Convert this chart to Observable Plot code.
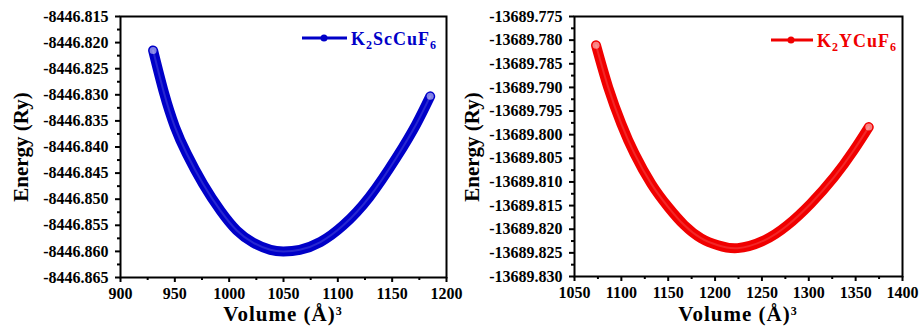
<!DOCTYPE html>
<html>
<head>
<meta charset="utf-8">
<script src="https://cdn.jsdelivr.net/npm/d3@7"></script>
<script src="https://cdn.jsdelivr.net/npm/@observablehq/plot@0.6"></script>
<style>
  html, body { margin: 0; padding: 0; background: white; }
  #wrap { position: relative; width: 919px; height: 326px; overflow: hidden; background: white; }
  #p1, #p2 { position: absolute; top: 0; }
  #p1 { left: 0; }
  #p2 { left: 460px; width: 459px; height: 326px; overflow: hidden; }
</style>
</head>
<body>
<div id="wrap"><div id="p1"></div><div id="p2"></div></div>
<script>
// ---- Panel 1: K2ScCuF6 ----
const vol1 = [930, 940, 950, 961, 976, 992, 1007, 1022, 1038, 1050, 1065, 1084, 1105, 1129, 1154, 1172, 1185];
const energy1 = [-8446.8215, -8446.8296, -8446.8361, -8446.8413, -8446.8471, -8446.8522, -8446.8560, -8446.8583, -8446.8597, -8446.8600, -8446.8597, -8446.8582, -8446.8550, -8446.8496, -8446.8420, -8446.8357, -8446.8303];
const xTicks1 = [900, 950, 1000, 1050, 1100, 1150, 1200];
const xMinor1 = [925, 975, 1025, 1075, 1125, 1175];
const yTicks1 = [-8446.865, -8446.860, -8446.855, -8446.850, -8446.845, -8446.840, -8446.835, -8446.830, -8446.825, -8446.820, -8446.815];
const yMinor1 = [-8446.8625, -8446.8575, -8446.8525, -8446.8475, -8446.8425, -8446.8375, -8446.8325, -8446.8275, -8446.8225, -8446.8175];
const name1 = ["K", "2", "ScCuF", "6"];

// ---- Panel 2: K2YCuF6 ----
const vol2 = [1073, 1086, 1100, 1114, 1132, 1150, 1167, 1185, 1203, 1224, 1252, 1277, 1302, 1327, 1348, 1364];
const energy2 = [-13689.7811, -13689.7900, -13689.7977, -13689.8040, -13689.8104, -13689.8153, -13689.8191, -13689.8219, -13689.8234, -13689.8240, -13689.8224, -13689.8192, -13689.8146, -13689.8090, -13689.8033, -13689.7984];
const xTicks2 = [1050, 1100, 1150, 1200, 1250, 1300, 1350, 1400];
const xMinor2 = [1075, 1125, 1175, 1225, 1275, 1325, 1375];
const yTicks2 = [-13689.830, -13689.825, -13689.820, -13689.815, -13689.810, -13689.805, -13689.800, -13689.795, -13689.790, -13689.785, -13689.780, -13689.775];
const yMinor2 = [-13689.8275, -13689.8225, -13689.8175, -13689.8125, -13689.8075, -13689.8025, -13689.7975, -13689.7925, -13689.7875, -13689.7825, -13689.7775];
const name2 = ["K", "2", "YCuF", "6"];

const xLabel = "Volume (Å)";
const yLabel = "Energy (Ry)";

function panel(o) {
  const data = o.vol.map((v, i) => ({v, e: o.energy[i]}));
  const svg = Plot.plot({
    width: o.width, height: 326,
    marginLeft: o.ml, marginRight: o.mr, marginTop: 16, marginBottom: o.mb,
    style: {fontFamily: "'Liberation Serif', serif", fontWeight: "bold", fontSize: "16px", color: "black", background: "transparent", overflow: "visible"},
    x: {domain: [o.xTicks[0], o.xTicks[o.xTicks.length - 1]]},
    y: {domain: [o.yTicks[0], o.yTicks[o.yTicks.length - 1]]},
    marks: [
      Plot.line(data, {x: "v", y: "e", stroke: o.color, strokeWidth: 10, curve: "natural", strokeLinecap: "round"}),
      Plot.line(data, {x: "v", y: "e", stroke: "white", strokeOpacity: 0.15, strokeWidth: 2, curve: "natural"}),
      Plot.dot(data, {x: "v", y: "e", filter: (d, i) => i === 0 || i === data.length - 1, r: 3.5, fill: "white", fillOpacity: 0.5, stroke: "none"}),
      Plot.axisX({ticks: o.xTicks, tickSize: 5, tickPadding: 5, strokeWidth: 2, tickFormat: d => String(d), label: null}),
      Plot.axisX({ticks: o.xMinor, tickSize: 3, strokeWidth: 2, tickFormat: () => "", label: null}),
      Plot.axisY({ticks: o.yTicks, tickSize: 5, tickPadding: 7, strokeWidth: 2, tickFormat: d => d.toFixed(3), label: null}),
      Plot.axisY({ticks: o.yMinor, tickSize: 3, strokeWidth: 2, tickFormat: () => "", label: null}),
      Plot.frame({stroke: "black", strokeWidth: 2})
    ]
  });
  const s = d3.select(svg);
  const cx = (o.ml + (o.width - o.mr)) / 2;
  const font = "'Liberation Serif', serif";
  // x label
  const xl = s.append("text").attr("x", cx).attr("y", 321).attr("text-anchor", "middle")
    .attr("font-family", font).attr("font-weight", "bold").attr("font-size", 21).attr("letter-spacing", 1).attr("fill", "black");
  xl.append("tspan").text(xLabel);
  xl.append("tspan").attr("font-size", 12).attr("dy", -6).text("3");
  // y label
  s.append("text").attr("transform", `translate(${o.ylx},147) rotate(-90)`).attr("text-anchor", "middle")
    .attr("font-family", font).attr("font-weight", "bold").attr("font-size", 21).attr("fill", "black").text(yLabel);
  // legend
  const g = s.append("g");
  g.append("line").attr("x1", o.lg[0]).attr("x2", o.lg[1]).attr("y1", o.lg[3]).attr("y2", o.lg[3]).attr("stroke", o.color).attr("stroke-width", 3);
  g.append("circle").attr("cx", o.lg[2]).attr("cy", o.lg[3]).attr("r", 3.5).attr("fill", o.color);
  const t = g.append("text").attr("x", o.lg[4]).attr("y", o.lg[5]).attr("fill", o.color).attr("text-anchor", "start")
    .attr("font-family", font).attr("font-weight", "bold").attr("font-size", 18).attr("letter-spacing", 1);
  t.append("tspan").text(o.name[0]);
  t.append("tspan").attr("font-size", 12).attr("dy", 4).text(o.name[1]);
  t.append("tspan").attr("dy", -4).text(o.name[2]);
  t.append("tspan").attr("font-size", 12).attr("dy", 4).text(o.name[3]);
  return svg;
}

document.getElementById("p1").appendChild(panel({
  vol: vol1, energy: energy1, color: "#0000c8", xTicks: xTicks1, xMinor: xMinor1, yTicks: yTicks1, yMinor: yMinor1,
  width: 460, ml: 120, mr: 14, mb: 49, ylx: 28, name: name1, lg: [302, 347, 324, 38, 351, 45]
}));
document.getElementById("p2").appendChild(panel({
  vol: vol2, energy: energy2, color: "#f00000", xTicks: xTicks2, xMinor: xMinor2, yTicks: yTicks2, yMinor: yMinor2,
  width: 459, ml: 114, mr: 17, mb: 50, ylx: 19, name: name2, lg: [311, 353, 331, 40, 357, 47]
}));
</script>
</body>
</html>
